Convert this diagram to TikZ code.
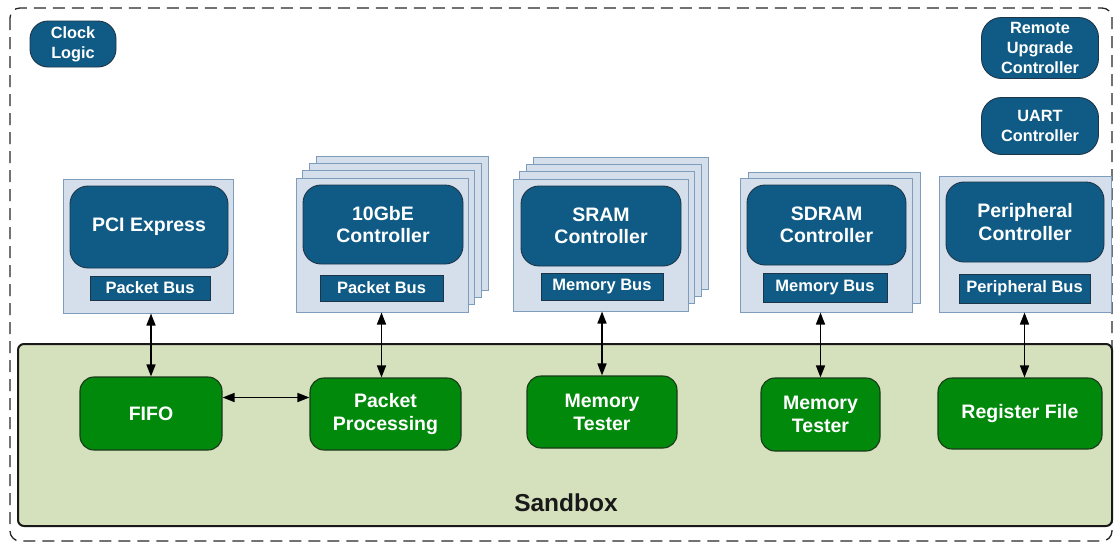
\documentclass[tikz,border=0pt]{standalone}
\usepackage{fontspec}
\setmainfont{Liberation Sans}
\usetikzlibrary{arrows.meta}
\definecolor{dblue}{HTML}{0F5B85}
\definecolor{dbluebd}{HTML}{1C3548}
\definecolor{lblue}{HTML}{D5DFEC}
\definecolor{lbluebd}{HTML}{7E9CBC}
\definecolor{gfill}{HTML}{00890A}
\definecolor{gbd}{HTML}{1B3A1B}
\definecolor{sbfill}{HTML}{D5E1BD}
\tikzset{
  card/.style={draw=lbluebd, fill=lblue, line width=1pt, inner sep=0pt},
  ctrl/.style={draw=dbluebd, fill=dblue, line width=0.9pt, rounded corners=18pt, text=white,
    font=\fontsize{19.5}{22.5}\selectfont\bfseries, align=center, inner sep=0pt},
  busbar/.style={draw=dbluebd, fill=dblue, line width=0.8pt, text=white,
    font=\fontsize{16.5}{19}\selectfont\bfseries, inner sep=0pt},
  small/.style={draw=dbluebd, fill=dblue, line width=0.9pt, rounded corners=18pt, text=white,
    font=\fontsize{16.3}{20}\selectfont\bfseries, align=center, inner sep=0pt},
  gnode/.style={draw=gbd, fill=gfill, line width=1.1pt, rounded corners=14pt, text=white,
    font=\fontsize{19.5}{23}\selectfont\bfseries, align=center, inner sep=0pt},
  arr/.style={{Triangle[length=12pt,width=9pt]}-{Triangle[length=12pt,width=9pt]}, line width=1.5pt, black},
}
\begin{document}
\begin{tikzpicture}[x=1pt,y=-1pt]
\useasboundingbox (0,0) rectangle (1114,544);
% outer dashed border
\draw[dash pattern=on 12pt off 7pt, line width=1.3pt, rounded corners=10pt, draw=black!85] (10,8) rectangle (1112,541);
% sandbox
\node[draw=black!90, fill=sbfill, line width=2pt, rounded corners=6pt, minimum width=1094pt, minimum height=182pt, inner sep=0pt] (sandbox) at (565,435) {};
\node[font=\fontsize{24.5}{28}\selectfont\bfseries, text=black!90] (sblabel) at (566,503) {Sandbox};

% small top nodes
\node[small, minimum width=86pt, minimum height=46pt] (clock) at (73,44) {Clock\\Logic};
\node[small, minimum width=117pt, minimum height=61pt, rounded corners=20pt] (remote) at (1040,48) {Remote\\Upgrade\\Controller};
\node[small, minimum width=117pt, minimum height=57pt, rounded corners=20pt] (uart) at (1040,126) {UART\\Controller};

% PCI Express
\node[card, minimum width=170pt, minimum height=134pt] (pci) at (148,246) {};
\node[ctrl, minimum width=158pt, minimum height=82pt] (pcictl) at (149,227) {PCI Express};
\node[busbar, minimum width=120pt, minimum height=24pt] (pcibus) at (150,288) {Packet Bus};

% 10GbE stack
\foreach \k in {3,2,1}{
  \node[card, minimum width=172pt, minimum height=134pt] (ge\k) at (382+6.7*\k,245-7.3*\k) {};
}
\node[card, minimum width=172pt, minimum height=134pt] (ge) at (382,245) {};
\node[ctrl, minimum width=160pt, minimum height=79pt] (gectl) at (383,224.5) {10GbE\\Controller};
\node[busbar, minimum width=123pt, minimum height=26pt] (gebus) at (381.5,288) {Packet Bus};

% SRAM stack
\foreach \k in {3,2,1}{
  \node[card, minimum width=175pt, minimum height=132pt] (sr\k) at (600.5+6.7*\k,245-7.3*\k) {};
}
\node[card, minimum width=175pt, minimum height=132pt] (sr) at (600.5,245) {};
\node[ctrl, minimum width=160pt, minimum height=80pt] (srctl) at (601,226) {SRAM\\Controller};
\node[busbar, minimum width=122pt, minimum height=27pt] (srbus) at (602,286.5) {Memory Bus};

% SDRAM stack
\node[card, minimum width=172pt, minimum height=131pt] (sd1) at (834,237.5) {};
\node[card, minimum width=172pt, minimum height=134pt] (sd) at (826,245) {};
\node[ctrl, minimum width=159pt, minimum height=80pt] (sdctl) at (826.5,225) {SDRAM\\Controller};
\node[busbar, minimum width=124pt, minimum height=29pt] (sdbus) at (825,287.5) {Memory Bus};

% Peripheral
\node[card, minimum width=172pt, minimum height=136pt] (per) at (1025,244) {};
\node[ctrl, minimum width=158pt, minimum height=80pt] (perctl) at (1025,222) {Peripheral\\Controller};
\node[busbar, minimum width=131pt, minimum height=29pt] (perbus) at (1024.5,288.5) {Peripheral Bus};

% green nodes
\node[gnode, minimum width=142pt, minimum height=73pt] (fifo) at (151,413.5) {FIFO};
\node[gnode, minimum width=151pt, minimum height=72pt] (pp) at (385.5,414) {Packet\\Processing};
\node[gnode, minimum width=150pt, minimum height=72pt] (mt1) at (602,412) {Memory\\Tester};
\node[gnode, minimum width=119pt, minimum height=73pt] (mt2) at (820.5,414.5) {Memory\\Tester};
\node[gnode, minimum width=164pt, minimum height=71pt] (rf) at (1020,413.5) {Register File};

% connectors
\draw[arr] (fifo.north |- pci.south) -- (fifo.north);
\draw[arr] (gebus.south |- ge.south) -- (gebus.south |- pp.north);
\draw[arr] (mt1.north |- sr.south) -- (mt1.north);
\draw[arr] (mt2.north |- sd.south) -- (mt2.north);
\draw[arr] (perbus.south |- per.south) -- (perbus.south |- rf.north);
\draw[arr] (fifo.east |- 0,397.5) -- (pp.west |- 0,397.5);
\end{tikzpicture}
\end{document}
